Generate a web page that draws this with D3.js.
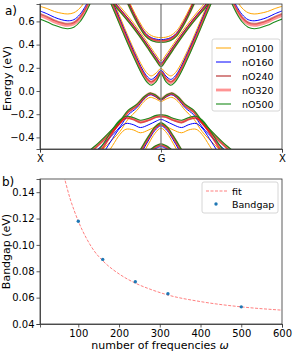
<!DOCTYPE html>
<html>
<head>
<meta charset="utf-8">
<script src="https://cdn.jsdelivr.net/npm/d3@7"></script>
<style>
  body { margin: 0; background: #fff; }
  text { font-family: "DejaVu Sans", sans-serif; fill: #000; }
</style>
</head>
<body>
<div id="plot"></div>
<script>
// ---- data: panel a (band structure, left half X -> G, mirrored to G -> X) ----
var series = ["nO100", "nO160", "nO240", "nO320", "nO500"];
var kTickLabels = ["X", "G", "X"];
var kTicks = [0, 1, 2];

// conduction band near X
var kCondX = [0, 0.06, 0.12, 0.18, 0.23, 0.28, 0.33, 0.38, 0.43];
var eCondX = [
  [0.73, 0.71, 0.685, 0.670, 0.664, 0.675, 0.715, 0.79, 0.89],
  [0.69, 0.665, 0.635, 0.614, 0.605, 0.615, 0.66, 0.74, 0.845],
  [0.665, 0.64, 0.61, 0.589, 0.580, 0.592, 0.637, 0.718, 0.825],
  [0.65, 0.625, 0.595, 0.574, 0.565, 0.577, 0.622, 0.703, 0.81],
  [0.62, 0.595, 0.566, 0.546, 0.537, 0.55, 0.597, 0.68, 0.79]
];
// flat-bottom band at G
var kCondU = [0.70, 0.76, 0.82, 0.87, 0.92, 0.96, 1.0];
var eCondU = [
  [0.86, 0.72, 0.60, 0.52, 0.478, 0.464, 0.46],
  [0.84, 0.70, 0.58, 0.50, 0.46, 0.447, 0.443],
  [0.83, 0.69, 0.57, 0.49, 0.449, 0.436, 0.432],
  [0.825, 0.685, 0.565, 0.485, 0.444, 0.431, 0.427],
  [0.815, 0.675, 0.555, 0.475, 0.435, 0.423, 0.42]
];
// V-shaped band touching G
var kCondV = [0.58, 0.66, 0.74, 0.82, 0.90, 0.96, 1.0];
var eCondV = [
  [0.83, 0.73, 0.63, 0.52, 0.40, 0.31, 0.26],
  [0.81, 0.71, 0.61, 0.50, 0.38, 0.29, 0.24],
  [0.80, 0.70, 0.60, 0.49, 0.37, 0.278, 0.228],
  [0.795, 0.695, 0.595, 0.485, 0.365, 0.272, 0.222],
  [0.785, 0.685, 0.585, 0.475, 0.355, 0.262, 0.21]
];
// lowest conduction band (W shape)
var kCondW = [0.55, 0.62, 0.70, 0.78, 0.85, 0.89, 0.92, 0.96, 1.0];
var eCondW = [
  [0.90, 0.74, 0.54, 0.35, 0.205, 0.148, 0.13, 0.155, 0.195],
  [0.88, 0.72, 0.52, 0.33, 0.18, 0.12, 0.10, 0.13, 0.18],
  [0.865, 0.70, 0.50, 0.31, 0.16, 0.10, 0.08, 0.11, 0.165],
  [0.855, 0.69, 0.49, 0.30, 0.15, 0.09, 0.07, 0.10, 0.16],
  [0.84, 0.67, 0.47, 0.28, 0.13, 0.07, 0.05, 0.08, 0.15]
];
// top valence band
var kVal1 = [0.36, 0.46, 0.56, 0.66, 0.73, 0.80, 0.86, 0.91, 0.955, 1.0];
var eVal1 = [
  [-0.64, -0.56, -0.46, -0.35, -0.24, -0.168, -0.09, -0.055, -0.068, -0.09],
  [-0.60, -0.52, -0.42, -0.31, -0.205, -0.145, -0.07, -0.033, -0.05, -0.078],
  [-0.57, -0.49, -0.39, -0.28, -0.183, -0.13, -0.06, -0.024, -0.042, -0.072],
  [-0.56, -0.48, -0.38, -0.27, -0.175, -0.122, -0.055, -0.02, -0.038, -0.07],
  [-0.55, -0.47, -0.37, -0.26, -0.165, -0.115, -0.05, -0.017, -0.035, -0.068]
];
// second valence band (wavy)
var kVal2 = [0.42, 0.52, 0.60, 0.66, 0.71, 0.77, 0.83, 0.90, 0.96, 1.0];
var eVal2 = [
  [-0.74, -0.60, -0.47, -0.375, -0.33, -0.335, -0.36, -0.335, -0.305, -0.29],
  [-0.68, -0.54, -0.41, -0.32, -0.28, -0.29, -0.315, -0.29, -0.26, -0.245],
  [-0.63, -0.49, -0.36, -0.273, -0.235, -0.245, -0.272, -0.252, -0.225, -0.22],
  [-0.62, -0.48, -0.35, -0.265, -0.228, -0.238, -0.265, -0.245, -0.218, -0.213],
  [-0.60, -0.46, -0.33, -0.25, -0.218, -0.228, -0.252, -0.235, -0.21, -0.205]
];
// valence caps at G
var kVal3 = [0.80, 0.85, 0.90, 0.95, 1.0];
var eVal3 = [
  [-0.63, -0.54, -0.45, -0.365, -0.32],
  [-0.60, -0.51, -0.42, -0.34, -0.30],
  [-0.575, -0.487, -0.40, -0.323, -0.287],
  [-0.57, -0.48, -0.395, -0.318, -0.282],
  [-0.56, -0.47, -0.385, -0.31, -0.275]
];
var kVal4 = [0.86, 0.92, 0.96, 1.0];
var eVal4 = [
  [-0.61, -0.545, -0.515, -0.50],
  [-0.59, -0.525, -0.495, -0.48],
  [-0.575, -0.512, -0.482, -0.467],
  [-0.57, -0.507, -0.477, -0.462],
  [-0.56, -0.50, -0.47, -0.455]
];
var energyTicks = [-0.4, -0.2, 0.0, 0.2, 0.4, 0.6];

// ---- data: panel b (bandgap vs number of frequencies) ----
var nFreq = [100, 160, 240, 320, 500];
var bandgap = [0.118, 0.089, 0.072, 0.063, 0.053];
var fitX = [65, 70, 80, 90, 100, 120, 140, 160, 200, 240, 280, 320, 400, 500, 600];
var fitY = [0.152, 0.146, 0.135, 0.126, 0.118, 0.105, 0.095, 0.088, 0.078, 0.071, 0.066, 0.062, 0.057, 0.053, 0.0505];
var freqTicks = [100, 200, 300, 400, 500, 600];
var gapTicks = [0.04, 0.06, 0.08, 0.10, 0.12, 0.14];

// line styles per series
var styles = [
  {color: "#ffa500", width: 1.0, opacity: 1},
  {color: "#0000ff", width: 1.0, opacity: 1},
  {color: "#b22222", width: 1.8, opacity: 0.6},
  {color: "#ff0000", width: 2.8, opacity: 0.42},
  {color: "#1a8a1a", width: 1.1, opacity: 1}
];

var svg = d3.select("#plot").append("svg")
    .attr("width", 295)
    .attr("height", 353);

// ================= panel a =================
var a = {left: 40, right: 282, top: 4, bottom: 149};
var xa = d3.scaleLinear().domain([0, 2]).range([a.left, a.right]);
var ya = d3.scaleLinear().domain([-0.5, 0.75]).range([a.bottom, a.top]);

svg.append("clipPath").attr("id", "clipa")
  .append("rect")
    .attr("x", a.left).attr("y", a.top)
    .attr("width", a.right - a.left).attr("height", a.bottom - a.top);

var bands = [
  [kCondX, eCondX], [kCondU, eCondU], [kCondV, eCondV], [kCondW, eCondW],
  [kVal1, eVal1], [kVal2, eVal2], [kVal3, eVal3], [kVal4, eVal4]
];

var bandLine = d3.line()
    .x(function(d) { return xa(d[0]); })
    .y(function(d) { return ya(d[1]); })
    .curve(d3.curveCatmullRom.alpha(0.5));

var gBands = svg.append("g").attr("clip-path", "url(#clipa)");

series.forEach(function(name, si) {
  var st = styles[si];
  bands.forEach(function(b) {
    var k = b[0], e = b[1][si];
    var left = k.map(function(kk, j) { return [kk, e[j]]; });
    var right = left.slice().reverse()
        .filter(function(p) { return p[0] < 1; })
        .map(function(p) { return [2 - p[0], p[1]]; });
    var paths = (k[k.length - 1] >= 1) ? [left.concat(right)]
        : [left, right.slice().reverse()];
    paths.forEach(function(pts) {
      gBands.append("path")
          .attr("d", bandLine(pts))
          .attr("fill", "none")
          .attr("stroke", st.color)
          .attr("stroke-width", st.width)
          .attr("stroke-opacity", st.opacity);
    });
  });
});

// vertical line at G
svg.append("line")
    .attr("x1", xa(1)).attr("x2", xa(1))
    .attr("y1", a.top).attr("y2", a.bottom)
    .attr("stroke", "#808080").attr("stroke-width", 1.3);

// axes a
svg.append("g")
    .attr("transform", "translate(" + a.left + ",0)")
    .call(d3.axisLeft(ya).tickValues(energyTicks).tickFormat(d3.format(".1f")).tickSize(3.5).tickPadding(2));
svg.append("g")
    .attr("transform", "translate(0," + a.bottom + ")")
    .call(d3.axisBottom(xa).tickValues(kTicks)
      .tickFormat(function(d, i) { return kTickLabels[i]; }).tickSize(3.5).tickPadding(2));

svg.append("rect")
    .attr("x", a.left).attr("y", a.top)
    .attr("width", a.right - a.left).attr("height", a.bottom - a.top)
    .attr("fill", "none").attr("stroke", "#333").attr("stroke-width", 0.8);

svg.append("text")
    .attr("transform", "translate(11," + ((a.top + a.bottom) / 2 + 2) + ") rotate(-90)")
    .attr("text-anchor", "middle")
    .style("font-size", "11px")
    .text("Energy (eV)");

svg.append("text").attr("x", 5).attr("y", 15)
    .style("font-size", "12px").text("a)");

// legend a
var legA = svg.append("g");
legA.append("rect")
    .attr("x", 212).attr("y", 39).attr("width", 68).attr("height", 72).attr("rx", 2)
    .attr("fill", "#fff").attr("fill-opacity", 0.85)
    .attr("stroke", "#ccc").attr("stroke-width", 0.8);
series.forEach(function(name, i) {
  var yy = 48 + i * 14;
  legA.append("line")
      .attr("x1", 216).attr("x2", 231).attr("y1", yy).attr("y2", yy)
      .attr("stroke", styles[i].color)
      .attr("stroke-width", styles[i].width)
      .attr("stroke-opacity", styles[i].opacity);
  legA.append("text").attr("x", 242).attr("y", yy + 3.5)
      .style("font-size", "9.5px").text(name);
});

// ================= panel b =================
var b = {left: 40, right: 282, top: 179, bottom: 324};
var xb = d3.scaleLinear().domain([6, 600]).range([b.left, b.right]);
var yb = d3.scaleLinear().domain([0.04, 0.15]).range([b.bottom, b.top]);

svg.append("clipPath").attr("id", "clipb")
  .append("rect")
    .attr("x", b.left).attr("y", b.top)
    .attr("width", b.right - b.left).attr("height", b.bottom - b.top);

var fitLine = d3.line()
    .x(function(d) { return xb(d[0]); })
    .y(function(d) { return yb(d[1]); })
    .curve(d3.curveMonotoneX);

svg.append("path")
    .attr("clip-path", "url(#clipb)")
    .attr("d", fitLine(fitX.map(function(x, i) { return [x, fitY[i]]; })))
    .attr("fill", "none")
    .attr("stroke", "#ff0000").attr("stroke-opacity", 0.5)
    .attr("stroke-width", 1)
    .attr("stroke-dasharray", "3,1.5");

svg.selectAll("circle.gap")
    .data(nFreq)
  .enter().append("circle")
    .attr("class", "gap")
    .attr("r", 1.7)
    .attr("cx", function(d) { return xb(d); })
    .attr("cy", function(d, i) { return yb(bandgap[i]); })
    .attr("fill", "#1f77b4");

svg.append("g")
    .attr("transform", "translate(" + b.left + ",0)")
    .call(d3.axisLeft(yb).tickValues(gapTicks).tickFormat(d3.format(".2f")).tickSize(3.5).tickPadding(2));
svg.append("g")
    .attr("transform", "translate(0," + b.bottom + ")")
    .call(d3.axisBottom(xb).tickValues(freqTicks).tickFormat(d3.format("d")).tickSize(3.5).tickPadding(2));

svg.append("rect")
    .attr("x", b.left).attr("y", b.top)
    .attr("width", b.right - b.left).attr("height", b.bottom - b.top)
    .attr("fill", "none").attr("stroke", "#333").attr("stroke-width", 0.8);

svg.append("text")
    .attr("transform", "translate(10," + ((b.top + b.bottom) / 2) + ") rotate(-90)")
    .attr("text-anchor", "middle")
    .style("font-size", "11px")
    .text("Bandgap (eV)");

var xlab = svg.append("text")
    .attr("x", 160).attr("y", 349)
    .attr("text-anchor", "middle")
    .style("font-size", "11px");
xlab.append("tspan").text("number of frequencies ");
xlab.append("tspan").style("font-style", "italic").text("ω");

svg.append("text").attr("x", 2).attr("y", 186)
    .style("font-size", "12px").text("b)");

// legend b
var legB = svg.append("g");
legB.append("rect")
    .attr("x", 202).attr("y", 182).attr("width", 76).attr("height", 31).attr("rx", 2)
    .attr("fill", "#fff").attr("fill-opacity", 0.85)
    .attr("stroke", "#ccc").attr("stroke-width", 0.8);
legB.append("line")
    .attr("x1", 206).attr("x2", 227).attr("y1", 191).attr("y2", 191)
    .attr("stroke", "#ff0000").attr("stroke-opacity", 0.5)
    .attr("stroke-width", 1).attr("stroke-dasharray", "3,1.5");
legB.append("text").attr("x", 232).attr("y", 194.5)
    .style("font-size", "9.5px").text("fit");
legB.append("circle")
    .attr("cx", 216).attr("cy", 204).attr("r", 1.7).attr("fill", "#1f77b4");
legB.append("text").attr("x", 232).attr("y", 207.5)
    .style("font-size", "9.5px").text("Bandgap");

// tick styling
svg.selectAll(".tick text").style("font-size", "10px").style("font-family", "DejaVu Sans, sans-serif");
svg.selectAll(".domain").attr("stroke", "#333").attr("stroke-width", 0.8);
svg.selectAll(".tick line").attr("stroke", "#333").attr("stroke-width", 0.8);
</script>
</body>
</html>
